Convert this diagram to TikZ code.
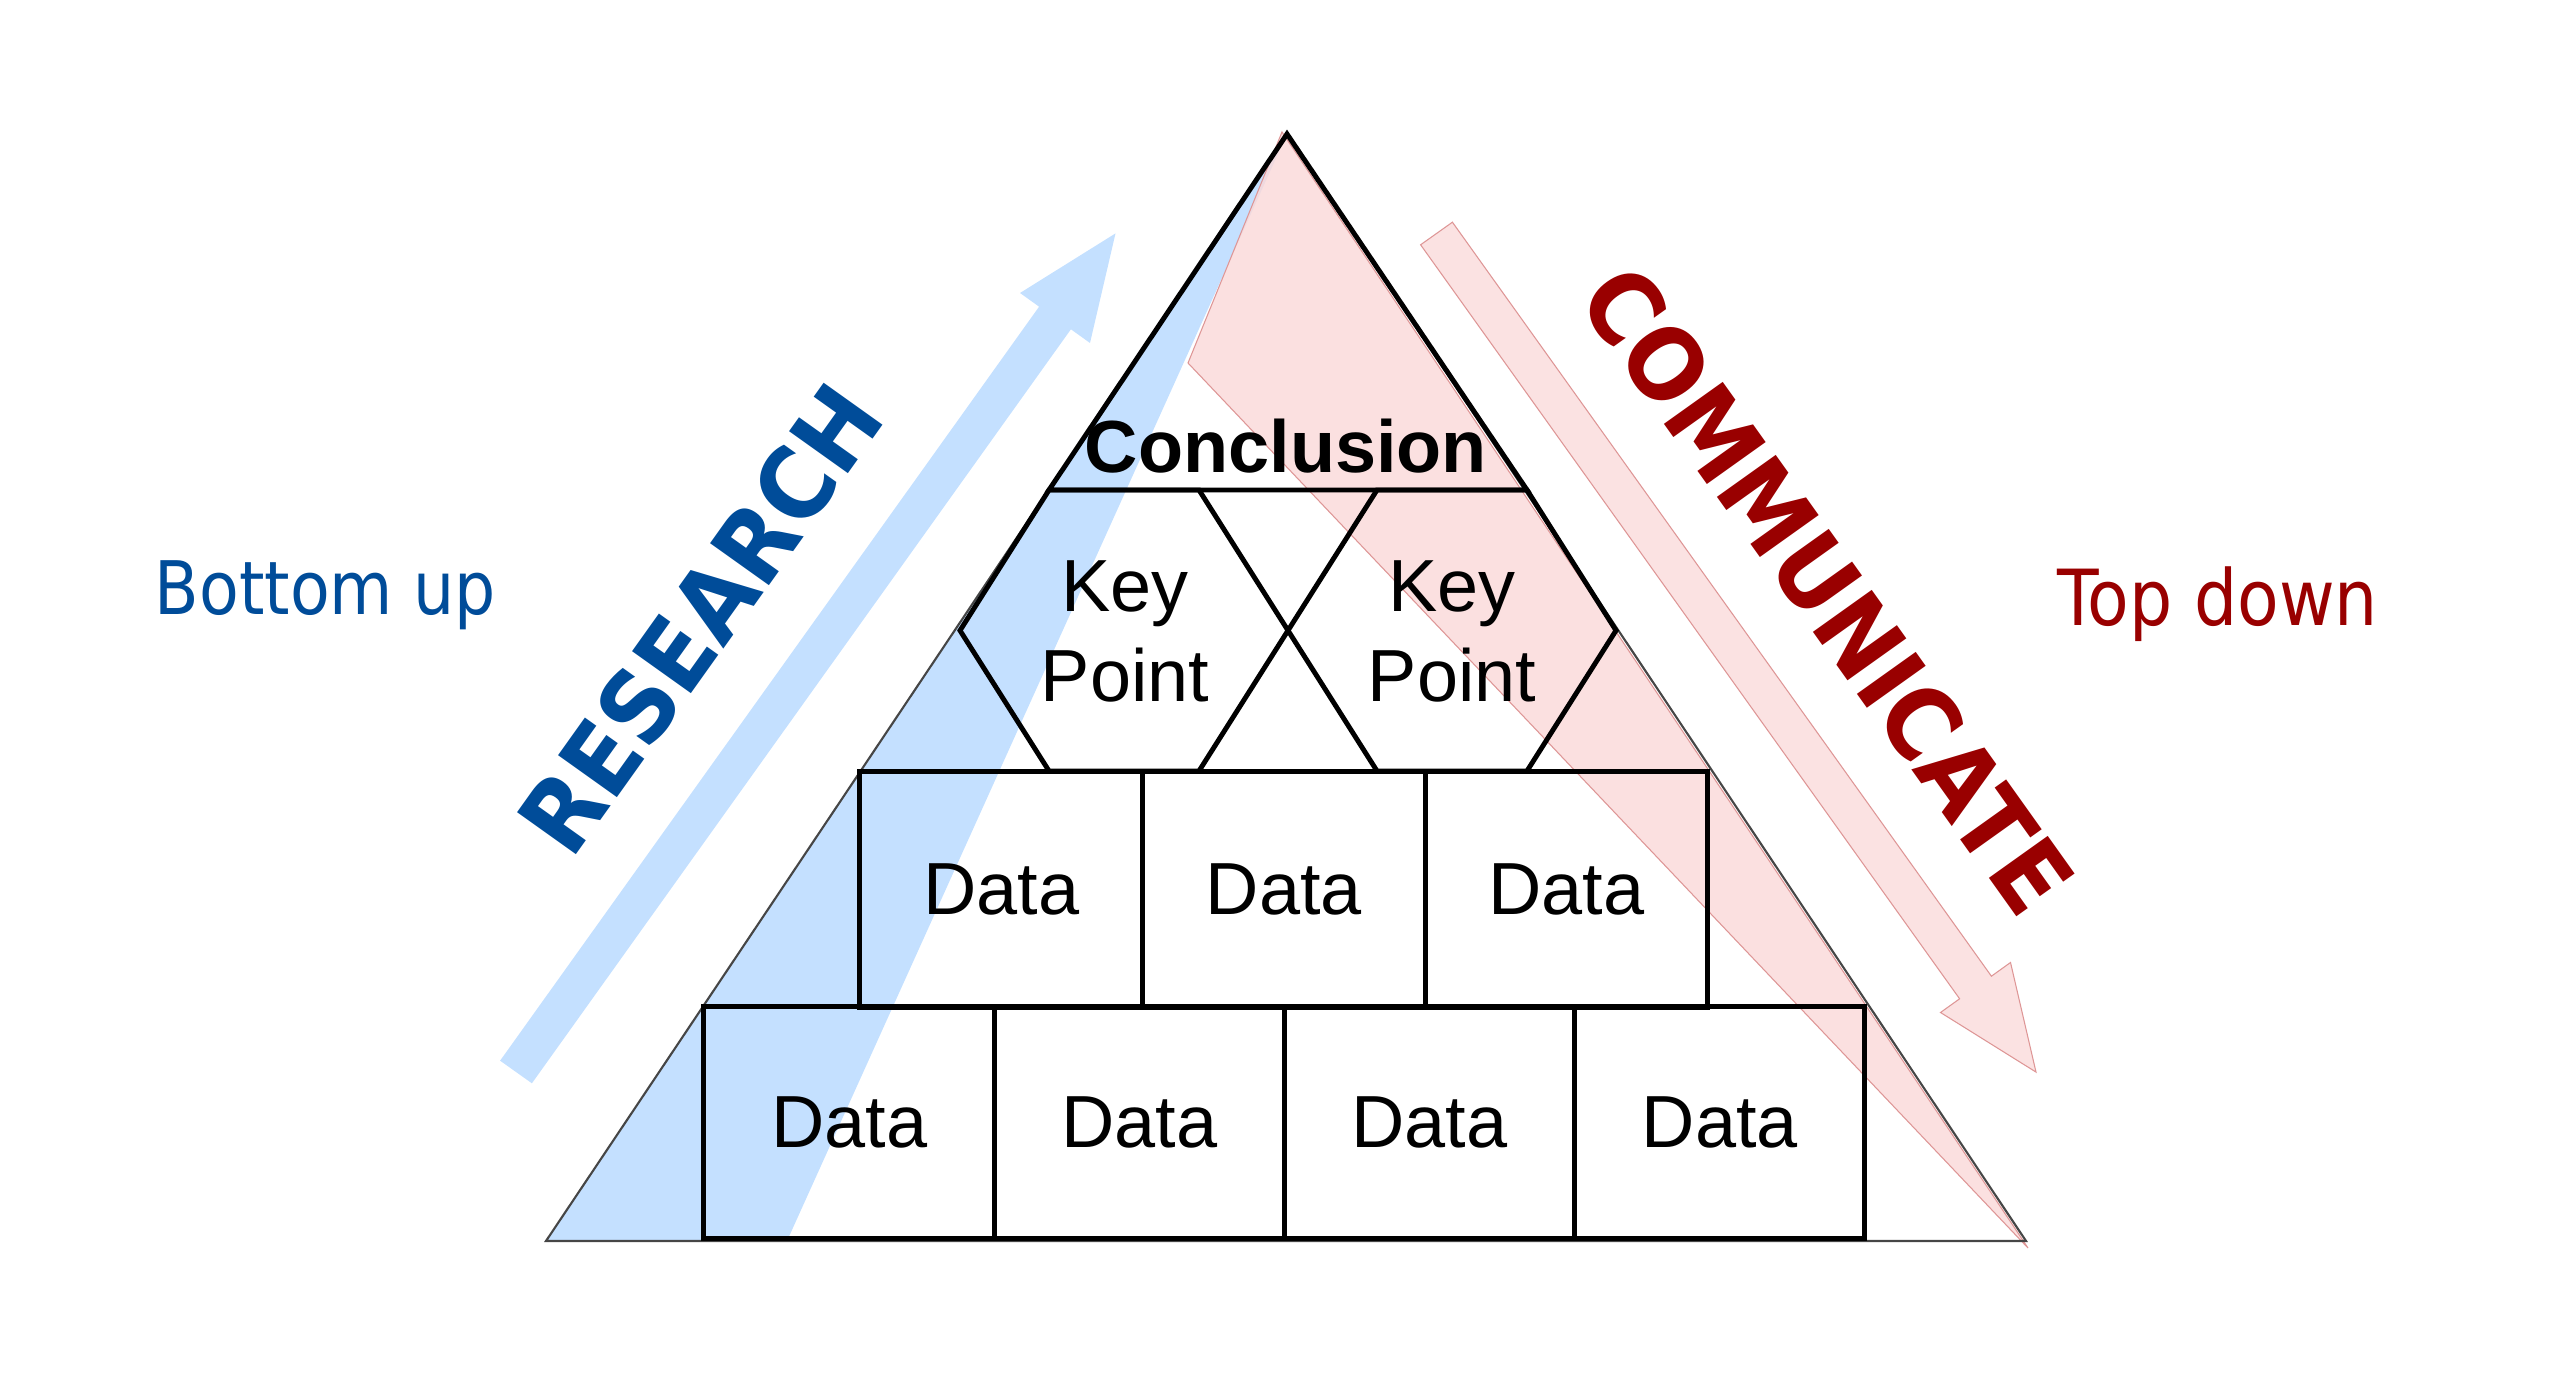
\documentclass[tikz,border=0pt]{standalone}
\usepackage{fontspec}
\setmainfont{Liberation Sans}
\newfontfamily\tahoma[FakeStretch=0.88]{DejaVu Sans}
\newfontfamily\tahomabf[FakeStretch=0.92]{DejaVu Sans}
\definecolor{bluefill}{RGB}{196,224,255}
\definecolor{pinkfill}{RGB}{250,216,216}
\definecolor{pinkline}{RGB}{222,150,150}
\definecolor{edgegray}{RGB}{70,70,70}
\definecolor{resblue}{RGB}{0,76,153}
\definecolor{comred}{RGB}{153,0,0}
\tikzset{
  blk/.style={draw=black, line width=1.4pt},
  grayedge/.style={draw=edgegray, line width=0.6pt},
  lbl/.style={inner sep=0pt, font=\fontsize{21}{25.6}\selectfont},
  datatop/.style={blk, minimum width=2.826cm, minimum height=2.35cm, inner sep=0pt, font=\fontsize{21}{25.6}\selectfont},
  databot/.style={blk, minimum width=2.902cm, minimum height=2.31cm, inner sep=0pt, font=\fontsize{21}{25.6}\selectfont},
  bluearea/.style={fill=bluefill, draw=none},
  pinkarea/.style={fill=pinkfill, fill opacity=0.8, draw=pinkline, line width=0.3pt},
  bigword/.style={inner sep=0pt, anchor=base, font=\tahomabf\bfseries\fontsize{28.2}{30}\selectfont},
  sideword/.style={inner sep=0pt, anchor=base west, font=\tahoma\fontsize{21}{25}\selectfont}
}
\begin{document}
\begin{tikzpicture}[x=0.01cm, y=-0.01cm]
\useasboundingbox (0,0) rectangle (2560,1383);

% coloured wedges inside the pyramid
\coordinate (apex) at (1287,134);
\coordinate (bl) at (546,1241);
\coordinate (br) at (2026,1241);
\fill[bluearea] (apex) -- (bl) -- (787,1241) -- cycle;
\path[pinkarea] (1282,132) -- (1188,363) -- (2028,1248) -- cycle;

% block arrows
\path[bluearea] (500.1,1060.7) -- (1039.1,306.7) -- (1020,293) -- (1115.5,233.4)
  -- (1090,343) -- (1070.9,329.3) -- (531.9,1083.3) -- cycle;
\path[pinkarea, fill opacity=1, fill=pinkfill!75!white] (1452.4,222.2) -- (1991.4,976.2) -- (2010.5,962.5) -- (2036,1072.1)
  -- (1940.5,1012.5) -- (1959.6,998.8) -- (1420.6,244.8) -- cycle;

% pyramid outline
\draw[grayedge] (apex) -- (bl) -- (br) -- cycle;

% conclusion cap
\draw[blk] (apex) -- (1049,490) -- (1527,490) -- cycle;

% key point hexagons
\draw[blk] (960,630.5) -- (1049,490) -- (1199,490) -- (1288,630.5) -- (1199,771) -- (1049,771) -- cycle;
\draw[blk] (1288,630.5) -- (1377,490) -- (1527,490) -- (1616,630.5) -- (1527,771) -- (1377,771) -- cycle;

% data rows
\node[datatop] (d11) at (1001.3,889.5) {Data};
\node[datatop] (d12) at (1283.9,889.5) {Data};
\node[datatop] (d13) at (1566.5,889.5) {Data};
\node[databot] (d21) at (849.1,1122.5) {Data};
\node[databot] (d22) at (1139.3,1122.5) {Data};
\node[databot] (d23) at (1429.5,1122.5) {Data};
\node[databot] (d24) at (1719.7,1122.5) {Data};

% texts
\node[lbl, anchor=base] (concl) at (1286,473) {\bfseries Conclusion};
\node[lbl, anchor=base] (kL1) at (1125,612) {Key};
\node[lbl, anchor=base] (kL2) at (1125,702) {Point};
\node[lbl, anchor=base] (kR1) at (1452,612) {Key};
\node[lbl, anchor=base] (kR2) at (1452,702) {Point};

\node[bigword, rotate=54.5, text=resblue] (research) at (730,640) {RESEARCH};
\node[bigword, rotate=-54.5, text=comred] (communicate) at (1798,611) {COMMUNICATE};

\node[sideword, text=resblue] (bottomup) at (154,615) {Bottom up};
\node[sideword, text=comred, font=\tahoma\fontsize{22}{26}\selectfont] (topdown) at (2057,626) {Top down};
\end{tikzpicture}
\end{document}
